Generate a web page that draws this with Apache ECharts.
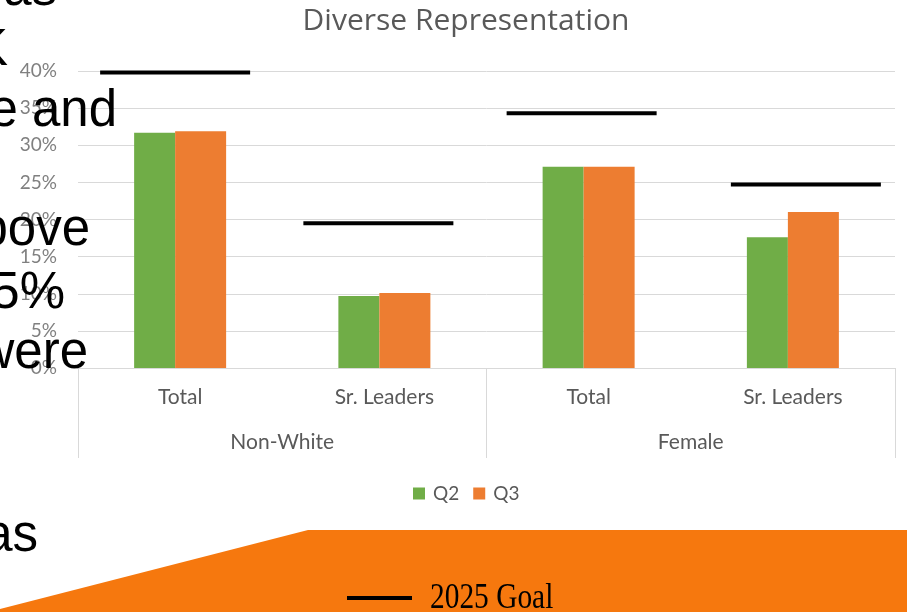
<!DOCTYPE html>
<html>
<head>
<meta charset="utf-8">
<script src="https://cdn.jsdelivr.net/npm/echarts@6/dist/echarts.min.js"></script>
<style>
html,body{margin:0;padding:0;background:#fff;}
#main{width:907px;height:612px;}
</style>
</head>
<body>
<div id="main"></div>
<script>
// ---- data ----
const groups = ['Non-White', 'Female'];
const categories = ['Total', 'Sr. Leaders', 'Total', 'Sr. Leaders'];
const q2 = [31.7, 9.7, 27.1, 17.6];
const q3 = [31.9, 10.1, 27.1, 21.0];
const goal2025 = [39.8, 19.5, 34.3, 24.7];
const yTicks = [0, 5, 10, 15, 20, 25, 30, 35, 40];
const slideLines = ['has', 'K', 'e and', 'above', '15%', 'were', 'as'];
const goalLegendText = '2025 Goal';
const chartTitle = 'Diverse Representation';

// ---- styling ----
const GREEN = '#70AD47', ORANGE = '#ED7D31', GRID = '#d9d9d9';
const goalShift = [-5, -6, -7, 13];
const slideX = [57, 8, 117, 90, 65, 88, 38];
const slideBase = [7, 67, 128, 247, 310, 370, 553];

const chart = echarts.init(document.getElementById('main'));

const slideGraphics = slideLines.map((t, i) => ({
  type: 'text', z: 100,
  style: {
    text: t, x: slideX[i], y: slideBase[i] - 16,
    font: '51px "Liberation Sans", Arial, sans-serif',
    fill: '#000', align: 'right', verticalAlign: 'middle'
  }
}));

chart.setOption({
  animation: false,
  title: {
    text: chartTitle, left: 461, top: 1, textAlign: 'center',
    textStyle: { fontFamily: 'Open Sans', fontSize: 30, fontWeight: 'normal', color: '#595959' }
  },
  legend: {
    data: ['Q2', 'Q3'], left: 413, top: 484, padding: 0,
    itemWidth: 12, itemHeight: 12, itemGap: 14, icon: 'rect',
    textStyle: { fontFamily: 'Lato', fontSize: 19, color: '#595959', padding: [0, 0, 0, 3] }
  },
  grid: { left: 78, right: 12, top: 71, bottom: 244, containLabel: false },
  xAxis: [
    {
      type: 'category', data: categories, position: 'bottom',
      axisLine: { lineStyle: { color: GRID, width: 1 } },
      axisTick: { show: false },
      axisLabel: { margin: 19, fontFamily: 'Lato', fontSize: 21, color: '#595959' }
    },
    {
      type: 'category', data: groups, position: 'bottom',
      axisLine: { show: false },
      axisTick: { show: true, length: 90, lineStyle: { color: GRID, width: 1 } },
      axisLabel: { margin: 64, fontFamily: 'Lato', fontSize: 21, color: '#595959' }
    }
  ],
  yAxis: {
    type: 'value', min: yTicks[0], max: yTicks[yTicks.length - 1], interval: yTicks[1] - yTicks[0],
    axisLine: { show: false }, axisTick: { show: false },
    splitLine: { lineStyle: { color: GRID, width: 1 } },
    axisLabel: { formatter: '{value}%', margin: 21, fontFamily: 'Lato', fontSize: 19, color: '#808080' }
  },
  series: [
    { name: 'Q2', type: 'bar', data: q2, barWidth: 41, barGap: '0%', itemStyle: { color: GREEN } },
    { name: 'Q3', type: 'bar', data: q3, barWidth: 51, barGap: '0%', itemStyle: { color: ORANGE } },
    {
      name: '2025 Goal', type: 'custom', z: 10,
      data: goal2025.map((g, i) => [i, g]),
      encode: { x: 0, y: 1 },
      renderItem: function (params, api) {
        const p = api.coord([api.value(0), api.value(1)]);
        const off = goalShift[params.dataIndex] || 0;
        return { type: 'rect', shape: { x: p[0] - 75 + off, y: p[1] - 2, width: 150, height: 4 }, style: { fill: '#000' } };
      }
    }
  ],
  graphic: [
    {
      type: 'polygon', z: 50,
      shape: { points: [[0, 609], [308, 530], [907, 530], [907, 612], [0, 612]] },
      style: { fill: '#F6780E' }
    },
    { type: 'line', z: 60, shape: { x1: 347, y1: 598, x2: 412, y2: 598 }, style: { stroke: '#000', lineWidth: 4 } },
    {
      type: 'text', z: 60, x: 430, y: 599, scaleX: 0.84,
      style: { text: goalLegendText, x: 0, y: 0, font: '35px "Liberation Serif", "Times New Roman", serif', fill: '#000', align: 'left', verticalAlign: 'middle' }
    }
  ].concat(slideGraphics)
});
</script>
</body>
</html>
